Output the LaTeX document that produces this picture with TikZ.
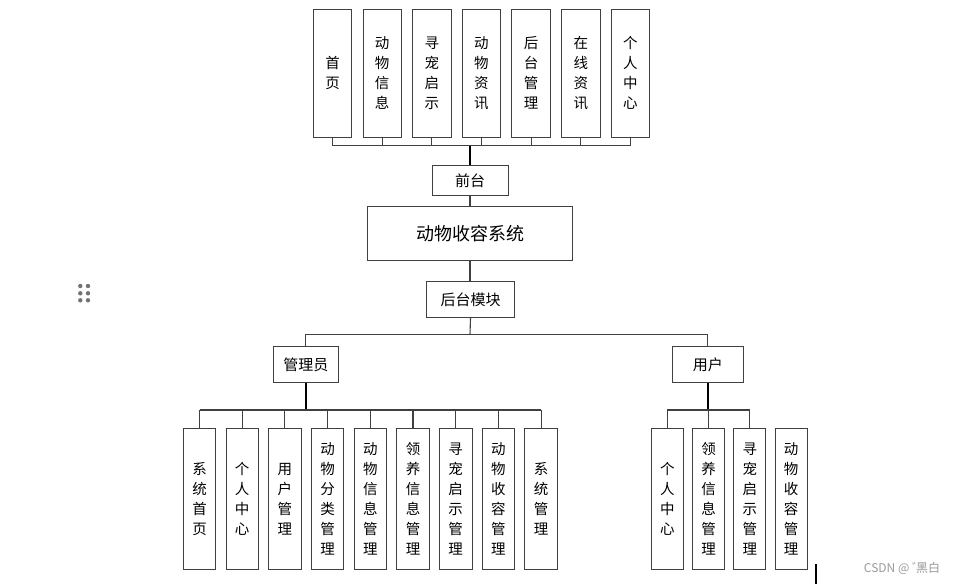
\documentclass[tikz,border=0pt]{standalone}
\usepackage{fontspec}
\newfontfamily\cjk{Noto Sans CJK SC}
\begin{document}
\begin{tikzpicture}[x=1pt,y=-1pt,
  box/.style={draw=black!75,line width=0.9pt,fill=white,inner sep=0pt,align=center,
    font=\cjk\fontsize{14.5}{20}\selectfont},
  vbox/.style={box,minimum width=38.4pt,minimum height=127.7pt},
  cbox/.style={box,minimum width=32.5pt,minimum height=141pt},
  hbox/.style={box,font=\cjk\fontsize{15}{18}\selectfont},
  conn/.style={draw=black!75,line width=1.1pt},
  thk/.style={draw=black,line width=2pt}]
\useasboundingbox (0,0) rectangle (959,584);
% top boxes
\foreach \t [count=\i from 0] in {首\\页,动\\物\\信\\息,寻\\宠\\启\\示,动\\物\\资\\讯,后\\台\\管\\理,在\\线\\资\\讯,个\\人\\中\\心}{
  \node[vbox] (t\i) at ({332.5+49.65*\i},73.2) {\t};
}
\node[hbox,minimum width=76pt,minimum height=30pt] (qt) at (470,180.8) {前台};
\node[box,font=\cjk\fontsize{18}{22}\selectfont,minimum width=204.6pt,minimum height=53.3pt] (sys) at (470,233.3) {动物收容系统};
\node[hbox,minimum width=87.6pt,minimum height=35.6pt] (ht) at (470.5,299.5) {后台模块};
\node[hbox,minimum width=65pt,minimum height=36pt] (gly) at (305.8,364.7) {管理员};
\node[hbox,minimum width=71pt,minimum height=36pt] (yh) at (707.8,364.7) {用户};
% admin children
\foreach \t [count=\i from 0] in {系\\统\\首\\页,个\\人\\中\\心,用\\户\\管\\理,动\\物\\分\\类\\管\\理,动\\物\\信\\息\\管\\理,领\\养\\信\\息\\管\\理,寻\\宠\\启\\示\\管\\理,动\\物\\收\\容\\管\\理,系\\统\\管\\理}{
  \node[cbox] (a\i) at ({199.5+42.7*\i},498.8) {\t};
}
% user children
\foreach \t [count=\i from 0] in {个\\人\\中\\心,领\\养\\信\\息\\管\\理,寻\\宠\\启\\示\\管\\理,动\\物\\收\\容\\管\\理}{
  \node[cbox,minimum width=32pt] (u\i) at ({667.3+41.3*\i},498.8) {\t};
}
% top bus
\coordinate (tb) at (470,145.7);
\foreach \i in {0,...,6}{ \draw[conn] (t\i.south) -- (t\i.south |- tb); }
\draw[conn] (t0.south |- tb) -- (t6.south |- tb);
\draw[thk] (tb) -- (qt.north);
\draw[conn] (qt.south) -- (qt.south |- sys.north);
\draw[conn] (sys.south) -- (sys.south |- ht.north);
% backend bus
\coordinate (mb) at (470,334.7);
\draw[conn] (ht.south) -- (mb);
\draw[conn] (gly.north) -- (gly.north |- mb) -- (yh.north |- mb) -- (yh.north);
% admin bus
\coordinate (ab) at (305.8,410);
\draw[thk] (gly.south) -- (ab);
\foreach \i in {0,...,8}{ \draw[conn] (a\i.north) -- (a\i.north |- ab); }
\draw[conn] (a0.north |- ab) -- (a8.north |- ab);
% user bus
\coordinate (ub) at (707.8,410);
\draw[thk] (yh.south) -- (ub);
\foreach \i in {0,...,2}{ \draw[conn] (u\i.north) -- (u\i.north |- ub); }
\draw[conn] (u0.north |- ub) -- (u2.north |- ub);
% extras
\coordinate (s1) at (815.7,564);
\coordinate (s2) at (815.7,584);
\draw[black,line width=2pt] (s1) -- (s2);
\node[text=black!40,font=\cjk\fontsize{12}{14}\selectfont,inner sep=0pt] (wm) at (902,568) {CSDN @ ゛\kern-8pt 黑白};
\foreach \x in {80.3,88}{\foreach \y in {286,293.3,300.3}{
  \fill[black!55] (\x,\y) circle (2.2pt);}}
\end{tikzpicture}
\end{document}
